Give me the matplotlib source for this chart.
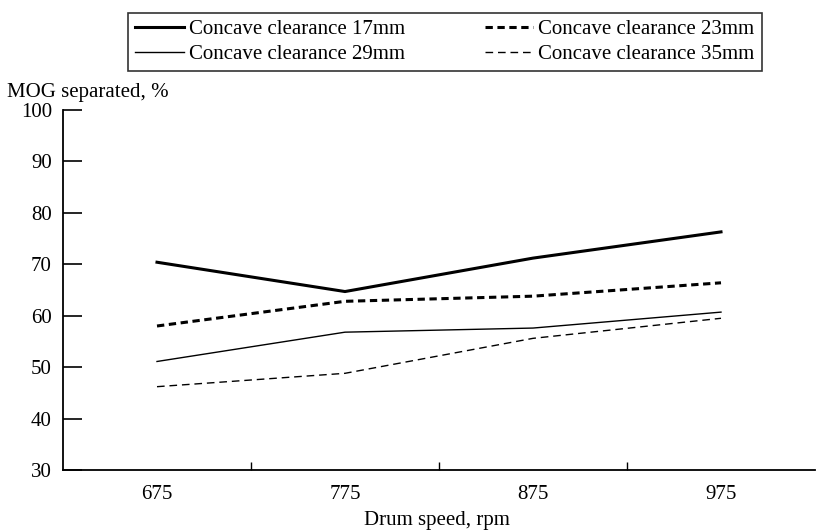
import matplotlib.pyplot as plt

plt.rcParams['font.family'] = ['Liberation Serif', 'DejaVu Serif']

# data
speeds = ['675', '775', '875', '975']
clear_17 = [70.4, 64.7, 71.2, 76.3]
clear_23 = [58.0, 62.8, 63.8, 66.4]
clear_29 = [51.1, 56.8, 57.6, 60.7]
clear_35 = [46.2, 48.8, 55.6, 59.5]
yticks = [30, 40, 50, 60, 70, 80, 90, 100]

W, H = 817, 530
fig = plt.figure(figsize=(W / 100, H / 100), dpi=100)
ax = fig.add_axes([63 / W, 60 / H, (815 - 63) / W, (470 - 110) / H])

x = [i + 0.5 for i in range(len(speeds))]
l17, = ax.plot(x, clear_17, color='black', lw=2.2, ls='-')
l23, = ax.plot(x, clear_23, color='black', lw=2.2, ls=(0, (2.4, 1.5)))
l29, = ax.plot(x, clear_29, color='black', lw=1.0, ls='-')
l35, = ax.plot(x, clear_35, color='black', lw=1.0, ls=(0, (5.5, 3.5)))

ax.set_xlim(0, 4)
ax.set_ylim(30, 100)
ax.set_xticks(x)
ax.set_xticklabels(speeds)
ax.set_xticks([1, 2, 3], minor=True)
ax.tick_params(axis='x', which='major', length=0, pad=11, labelsize=15)
ax.tick_params(axis='x', which='minor', direction='in', length=6, width=1)
ax.set_yticks(yticks)
ax.tick_params(axis='y', direction='in', length=14, width=1.2, pad=8, labelsize=15)

for s in ['top', 'right']:
    ax.spines[s].set_visible(False)
ax.spines['left'].set_linewidth(1.3)
ax.spines['bottom'].set_linewidth(1.3)

fig.text(7 / W, 1 - 92 / H, 'MOG separated, %', fontsize=15, va='center', ha='left')
fig.text(437 / W, 1 - 521 / H, 'Drum speed, rpm', fontsize=15, va='center', ha='center')

handles = [l17, l29, l23, l35]
labels = ['Concave clearance 17mm', 'Concave clearance 29mm',
          'Concave clearance 23mm', 'Concave clearance 35mm']
leg = fig.legend(handles, labels, ncol=2, loc='center',
                 bbox_to_anchor=(445 / W, 1 - 42 / H),
                 fontsize=15, frameon=True, fancybox=False,
                 handlelength=2.35, handletextpad=0.24, columnspacing=3.8,
                 labelspacing=0.25, borderpad=0.35, borderaxespad=0)
leg.get_frame().set_edgecolor('black')
leg.get_frame().set_linewidth(1.2)

fig.savefig('out.png', dpi=100)
